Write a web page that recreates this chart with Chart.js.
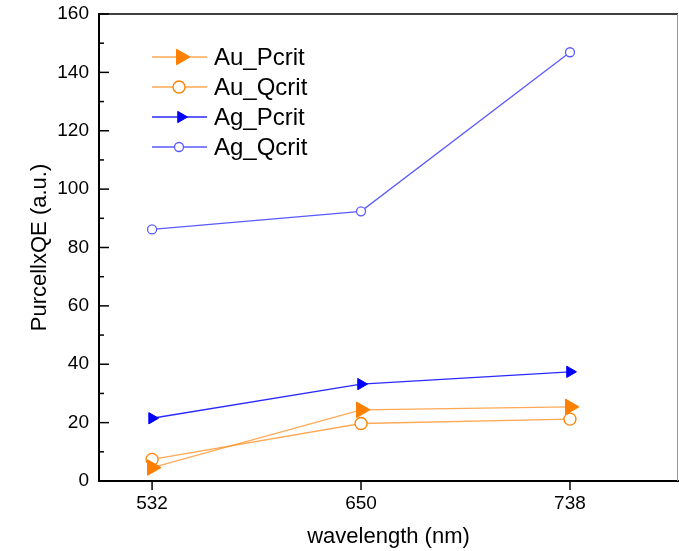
<!DOCTYPE html>
<html>
<head>
<meta charset="utf-8">
<script src="https://cdn.jsdelivr.net/npm/chart.js@4.4.0/dist/chart.umd.min.js"></script>
<style>
  html, body { margin: 0; padding: 0; background: #fff; }
  #wrap { width: 679px; height: 551px; }
</style>
</head>
<body>
<div id="wrap"><canvas id="c" width="679" height="551"></canvas></div>
<script>
// wavelengths (nm) shown as evenly spaced categories
const wavelengths = ['532', '650', '738'];
const auPcrit = [4.6, 24.4, 25.4];
const auQcrit = [7.4, 19.7, 21.2];
const agPcrit = [21.5, 33.2, 37.4];
const agQcrit = [86.2, 92.4, 146.9];
const yTicks = [0, 20, 40, 60, 80, 100, 120, 140, 160];

const pts = arr => arr.map((v, i) => ({ x: i, y: v }));
const FONT = 'Arial, "Liberation Sans", sans-serif';

// tick marks, frame and the legend
const decor = {
  id: 'decor',
  afterDraw(chart) {
    const ctx = chart.ctx;
    const a = chart.chartArea;
    const xs = chart.scales.x, ys = chart.scales.y;
    ctx.save();
    ctx.strokeStyle = '#000';
    ctx.lineWidth = 1.5;
    // top frame
    ctx.beginPath(); ctx.moveTo(a.left, a.top); ctx.lineTo(a.right, a.top); ctx.stroke();
    // right frame (light)
    ctx.strokeStyle = '#999'; ctx.lineWidth = 1;
    ctx.beginPath(); ctx.moveTo(a.right - 0.5, a.top); ctx.lineTo(a.right - 0.5, a.bottom); ctx.stroke();
    // y ticks inside
    ctx.strokeStyle = '#000'; ctx.lineWidth = 1.5;
    for (let v = 0; v <= 160; v += 10) {
      const y = ys.getPixelForValue(v);
      const len = v % 20 === 0 ? 10 : 5;
      ctx.beginPath(); ctx.moveTo(a.left, y); ctx.lineTo(a.left + len, y); ctx.stroke();
    }
    // x ticks outside
    wavelengths.forEach((w, i) => {
      const x = xs.getPixelForValue(i);
      ctx.beginPath(); ctx.moveTo(x, a.bottom); ctx.lineTo(x, a.bottom + 9); ctx.stroke();
    });
    // legend
    ctx.font = '24px ' + FONT;
    ctx.textBaseline = 'middle';
    chart.data.datasets.forEach((ds, i) => {
      const y = 57 + i * 30;
      ctx.strokeStyle = ds.borderColor; ctx.lineWidth = 1.5;
      ctx.beginPath(); ctx.moveTo(152, y); ctx.lineTo(207, y); ctx.stroke();
      ctx.strokeStyle = ds.pointBorderColor; ctx.fillStyle = ds.pointBackgroundColor;
      ctx.lineWidth = ds.pointBorderWidth;
      Chart.helpers.drawPoint(ctx, {
        pointStyle: ds.pointStyle, radius: ds.pointRadius,
        rotation: ds.pointRotation || 0, borderWidth: ds.pointBorderWidth
      }, ds.pointStyle === 'triangle' ? 181 : 179, y);
      ctx.fillStyle = '#000';
      ctx.fillText(ds.label, 214, y + 1);
    });
    ctx.restore();
  }
};

new Chart(document.getElementById('c'), {
  type: 'line',
  data: {
    datasets: [
      { label: 'Au_Pcrit', data: pts(auPcrit), borderColor: 'rgba(255,140,30,0.75)', borderWidth: 1.3,
        pointStyle: 'triangle', pointRotation: 90, pointRadius: 9,
        pointBackgroundColor: '#ff8000', pointBorderColor: '#ff8000', pointBorderWidth: 1 },
      { label: 'Au_Qcrit', data: pts(auQcrit), borderColor: 'rgba(255,140,30,0.75)', borderWidth: 1.3,
        pointStyle: 'circle', pointRadius: 6,
        pointBackgroundColor: '#ffffff', pointBorderColor: '#ff8000', pointBorderWidth: 1.3 },
      { label: 'Ag_Pcrit', data: pts(agPcrit), borderColor: '#2a2aff', borderWidth: 1.3,
        pointStyle: 'triangle', pointRotation: 90, pointRadius: 6.5,
        pointBackgroundColor: '#0000ff', pointBorderColor: '#0000ff', pointBorderWidth: 1 },
      { label: 'Ag_Qcrit', data: pts(agQcrit), borderColor: '#5a5aff', borderWidth: 1.3,
        pointStyle: 'circle', pointRadius: 4.5,
        pointBackgroundColor: '#ffffff', pointBorderColor: '#5a5aff', pointBorderWidth: 1.3 }
    ]
  },
  options: {
    responsive: false,
    animation: false,
    clip: false,
    layout: { autoPadding: false, padding: { top: 14, right: 1, left: 0, bottom: 0 } },
    plugins: { legend: { display: false }, tooltip: { enabled: false } },
    scales: {
      x: {
        type: 'linear', min: -0.254, max: 2.517,
        afterBuildTicks: s => { s.ticks = wavelengths.map((w, i) => ({ value: i })); },
        afterFit: s => { s.height = 70; s.paddingLeft = 0; s.paddingRight = 0; },
        grid: { display: false, drawTicks: false },
        border: { display: true, color: '#000', width: 2 },
        ticks: { color: '#000', font: { size: 19, family: FONT }, padding: 11,
                 callback: v => wavelengths[v] },
        title: { display: true, text: 'wavelength (nm)', color: '#000',
                 font: { size: 22, family: FONT }, padding: { top: 0, bottom: 1 } }
      },
      y: {
        min: 0, max: 160,
        afterBuildTicks: s => { s.ticks = yTicks.map(v => ({ value: v })); },
        afterFit: s => { s.width = 99; s.paddingTop = 0; s.paddingBottom = 0; },
        grid: { display: false, drawTicks: false },
        border: { display: true, color: '#000', width: 2 },
        ticks: { color: '#000', font: { size: 19, family: FONT }, padding: 10 },
        title: { display: true, text: 'PurcellxQE (a.u.)', color: '#000',
                 font: { size: 22, family: FONT }, padding: { top: 27, bottom: 0 } }
      }
    }
  },
  plugins: [decor]
});
</script>
</body>
</html>
